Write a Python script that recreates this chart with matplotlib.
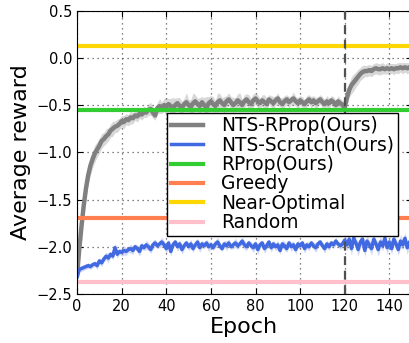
import matplotlib
matplotlib.use("Agg")
import matplotlib.pyplot as plt
import numpy as np

epochs = np.arange(151)

rprop_nts = [
    -2.30, -2.02, -1.78, -1.56, -1.38, -1.24, -1.14, -1.07, -1.01, -0.97,
    -0.93, -0.88, -0.86, -0.83, -0.81, -0.77, -0.75, -0.73, -0.72, -0.70,
    -0.67, -0.68, -0.65, -0.66, -0.63, -0.64, -0.61, -0.62, -0.59, -0.60,
    -0.57, -0.58, -0.55, -0.54, -0.58, -0.61, -0.53, -0.51, -0.53, -0.50,
    -0.52, -0.49, -0.51, -0.54, -0.50, -0.48, -0.51, -0.53, -0.49, -0.47,
    -0.50, -0.52, -0.48, -0.46, -0.49, -0.51, -0.47, -0.50, -0.53, -0.48,
    -0.46, -0.49, -0.51, -0.47, -0.45, -0.48, -0.50, -0.46, -0.44, -0.47,
    -0.50, -0.48, -0.45, -0.47, -0.50, -0.46, -0.44, -0.47, -0.49, -0.45,
    -0.43, -0.46, -0.48, -0.45, -0.47, -0.49, -0.44, -0.46, -0.48, -0.45,
    -0.43, -0.47, -0.49, -0.46, -0.44, -0.47, -0.45, -0.43, -0.46, -0.48,
    -0.45, -0.47, -0.49, -0.46, -0.44, -0.47, -0.45, -0.48, -0.46, -0.44,
    -0.47, -0.49, -0.46, -0.48, -0.45, -0.47, -0.50, -0.46, -0.48, -0.50,
    -0.53, -0.42, -0.34, -0.29, -0.26, -0.23, -0.20, -0.17, -0.15, -0.14,
    -0.14, -0.13, -0.14, -0.12, -0.11, -0.12, -0.12, -0.11, -0.12, -0.11,
    -0.12, -0.11, -0.12, -0.11, -0.11, -0.10, -0.11, -0.10, -0.11, -0.10,
    -0.10,
]
rprop_nts_spread = [
    0.06, 0.08, 0.10, 0.10, 0.10, 0.10, 0.10, 0.09, 0.09, 0.08,
    0.08, 0.08, 0.07, 0.08, 0.07, 0.07, 0.08, 0.06, 0.07, 0.06,
    0.06, 0.07, 0.06, 0.06, 0.07, 0.06, 0.05, 0.06, 0.05, 0.06,
    0.06, 0.05, 0.06, 0.07, 0.06, 0.05, 0.06, 0.08, 0.06, 0.07,
    0.10, 0.06, 0.08, 0.12, 0.07, 0.06, 0.09, 0.07, 0.06, 0.10,
    0.06, 0.08, 0.11, 0.07, 0.06, 0.09, 0.06, 0.08, 0.12, 0.07,
    0.06, 0.08, 0.06, 0.10, 0.07, 0.06, 0.09, 0.06, 0.07, 0.06,
    0.08, 0.06, 0.07, 0.10, 0.06, 0.07, 0.06, 0.08, 0.06, 0.07,
    0.06, 0.07, 0.05, 0.06, 0.08, 0.06, 0.05, 0.06, 0.07, 0.05,
    0.06, 0.05, 0.07, 0.06, 0.05, 0.06, 0.05, 0.07, 0.05, 0.06,
    0.05, 0.06, 0.05, 0.06, 0.05, 0.06, 0.05, 0.06, 0.05, 0.05,
    0.06, 0.05, 0.06, 0.05, 0.05, 0.06, 0.05, 0.06, 0.05, 0.05,
    0.04, 0.07, 0.08, 0.09, 0.09, 0.08, 0.08, 0.07, 0.07, 0.06,
    0.06, 0.06, 0.06, 0.06, 0.06, 0.06, 0.06, 0.06, 0.05, 0.06,
    0.06, 0.05, 0.06, 0.05, 0.06, 0.05, 0.06, 0.05, 0.06, 0.05,
    0.05,
]

scratch_nts = [
    -2.32, -2.24, -2.23, -2.22, -2.21, -2.20, -2.21, -2.19, -2.18, -2.20,
    -2.15, -2.17, -2.13, -2.10, -2.12, -2.08, -2.10, -2.01, -2.08, -2.05,
    -2.06, -2.04, -2.05, -2.03, -2.02, -2.04, -2.00, -2.02, -2.05, -1.99,
    -2.01, -1.98, -2.00, -2.03, -1.98, -1.96, -1.99, -1.97, -1.95, -1.98,
    -2.02, -1.96, -2.05, -1.98, -1.95, -2.00, -1.97, -2.03, -1.99, -1.96,
    -2.00, -1.97, -2.02, -1.98, -1.95, -2.01, -1.97, -1.99, -1.96, -2.00,
    -1.98, -2.01, -1.97, -1.95, -1.99, -2.02, -1.97, -1.99, -1.96, -2.00,
    -1.98, -1.96, -1.99, -1.97, -1.94, -1.98, -2.00, -1.96, -1.99, -2.01,
    -1.97, -2.03, -1.98, -1.96, -2.02, -1.99, -1.95, -2.01, -1.97, -2.00,
    -1.98, -2.04, -1.97, -1.99, -2.02, -1.96, -2.00, -1.98, -2.03, -1.97,
    -1.99, -1.96, -2.02, -1.98, -2.00, -1.96, -1.99, -2.01, -1.97, -1.95,
    -1.99, -2.02, -1.97, -2.00, -1.96, -1.98, -1.94, -1.97, -1.99, -1.97,
    -1.93, -1.98, -1.92, -2.02, -1.91, -1.96, -2.03, -1.95, -1.92, -2.04,
    -1.94, -1.98, -2.02, -1.92, -1.97, -2.03, -1.95, -1.99, -1.91, -2.01,
    -1.95, -2.02, -1.92, -1.97, -2.03, -1.94, -1.98, -1.91, -2.01, -1.95,
    -1.97,
]
scratch_nts_spread = [
    0.03, 0.03, 0.03, 0.03, 0.03, 0.03, 0.03, 0.03, 0.03, 0.04,
    0.03, 0.04, 0.03, 0.04, 0.05, 0.03, 0.04, 0.05, 0.04, 0.03,
    0.04, 0.05, 0.04, 0.03, 0.05, 0.04, 0.03, 0.04, 0.05, 0.04,
    0.03, 0.05, 0.04, 0.04, 0.05, 0.04, 0.03, 0.04, 0.05, 0.04,
    0.05, 0.04, 0.05, 0.04, 0.03, 0.05, 0.04, 0.05, 0.04, 0.03,
    0.04, 0.05, 0.04, 0.03, 0.04, 0.05, 0.04, 0.03, 0.04, 0.05,
    0.04, 0.03, 0.04, 0.05, 0.04, 0.03, 0.04, 0.05, 0.04, 0.03,
    0.04, 0.05, 0.04, 0.03, 0.04, 0.05, 0.04, 0.03, 0.04, 0.05,
    0.04, 0.05, 0.04, 0.03, 0.05, 0.04, 0.03, 0.05, 0.04, 0.04,
    0.05, 0.04, 0.04, 0.05, 0.04, 0.03, 0.05, 0.04, 0.05, 0.04,
    0.04, 0.03, 0.05, 0.04, 0.04, 0.03, 0.04, 0.05, 0.04, 0.03,
    0.04, 0.05, 0.04, 0.04, 0.03, 0.04, 0.04, 0.03, 0.04, 0.04,
    0.05, 0.06, 0.05, 0.07, 0.06, 0.05, 0.07, 0.06, 0.05, 0.07,
    0.06, 0.05, 0.07, 0.06, 0.05, 0.07, 0.06, 0.05, 0.06, 0.07,
    0.05, 0.06, 0.07, 0.05, 0.06, 0.07, 0.05, 0.06, 0.07, 0.05,
    0.06,
]

baseline_names = ["RProp(Ours)", "Greedy", "Near-Optimal", "Random"]
baseline_values = [-0.55, -1.70, 0.13, -2.37]
baseline_colors = ["limegreen", "coral", "gold", "pink"]

switch_epoch = 120

rprop_nts = np.array(rprop_nts)
rprop_nts_spread = np.array(rprop_nts_spread)
scratch_nts = np.array(scratch_nts)
scratch_nts_spread = np.array(scratch_nts_spread)

fig = plt.figure(figsize=(4.1, 3.43), dpi=100)
ax = fig.add_axes([0.188, 0.143, 0.816, 0.826])

ax.fill_between(epochs, rprop_nts - rprop_nts_spread, rprop_nts + rprop_nts_spread,
                color="gray", alpha=0.3, lw=0)
ax.plot(epochs, rprop_nts, color="gray", lw=3.2, label="NTS-RProp(Ours)")
ax.fill_between(epochs, scratch_nts - scratch_nts_spread, scratch_nts + scratch_nts_spread,
                color="royalblue", alpha=0.25, lw=0)
ax.plot(epochs, scratch_nts, color="royalblue", lw=2.5, label="NTS-Scratch(Ours)")

for name, val, col in zip(baseline_names, baseline_values, baseline_colors):
    ax.axhline(val, color=col, lw=3, label=name)

ax.axvline(switch_epoch, color="#505050", lw=1.6, ls=(0, (4, 2.5)), zorder=5)

ax.set_xlim(0, 150)
ax.set_ylim(-2.5, 0.5)
ax.set_xticks(np.arange(0, 150, 20))
ax.set_yticks(np.arange(-2.5, 0.51, 0.5))
ax.tick_params(direction="in", top=True, right=True, labelsize=10.5, length=4)
ax.grid(True, ls=(0, (1, 3)), color="0.35", lw=0.9)
ax.set_xlabel("Epoch", fontsize=16, labelpad=2)
ax.set_ylabel("Average reward", fontsize=16, labelpad=4)

leg = ax.legend(loc="upper left", bbox_to_anchor=(0.27, 0.64), fontsize=13.4,
                fancybox=False, framealpha=1, edgecolor="black",
                handlelength=1.7, handletextpad=1.0, labelspacing=0.02,
                borderpad=0.2, borderaxespad=0)
leg.get_frame().set_linewidth(1.0)

fig.savefig("out.png", dpi=100)
